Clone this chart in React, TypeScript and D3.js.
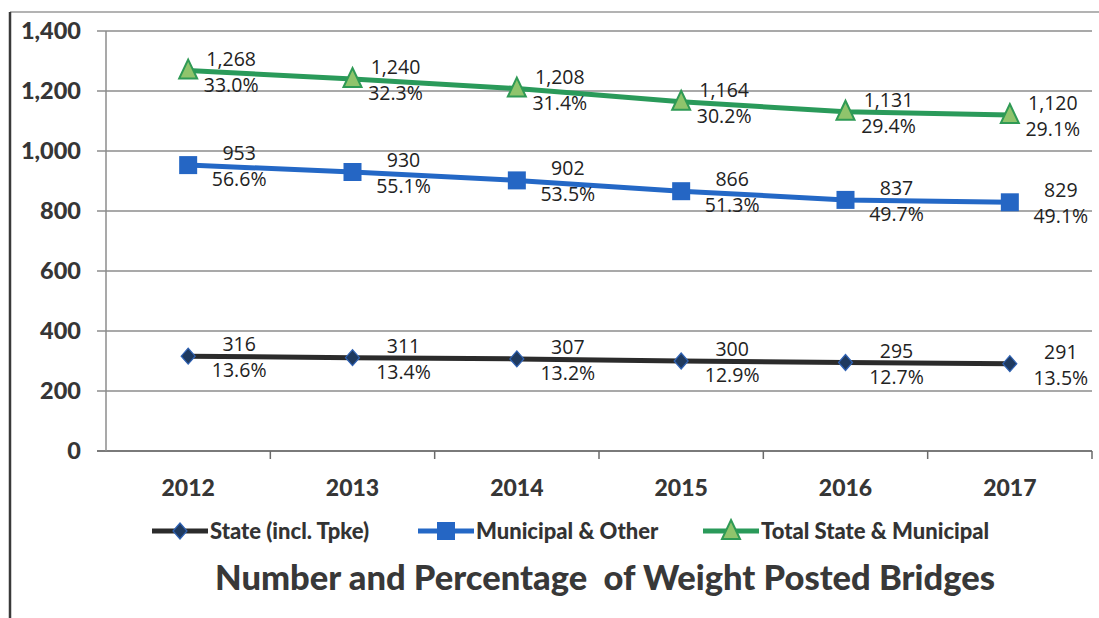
import React, { useEffect, useRef } from 'react';
import * as d3 from 'd3';

// data
const years = ['2012', '2013', '2014', '2015', '2016', '2017'];
const stateCounts = [316, 311, 307, 300, 295, 291];
const statePct = ['13.6%', '13.4%', '13.2%', '12.9%', '12.7%', '13.5%'];
const municipalCounts = [953, 930, 902, 866, 837, 829];
const municipalPct = ['56.6%', '55.1%', '53.5%', '51.3%', '49.7%', '49.1%'];
const totalCounts = [1268, 1240, 1208, 1164, 1131, 1120];
const totalPct = ['33.0%', '32.3%', '31.4%', '30.2%', '29.4%', '29.1%'];
const yTicks = [0, 200, 400, 600, 800, 1000, 1200, 1400];

const W = 1099;
const H = 618;
const margin = { top: 31, right: 7, bottom: 167, left: 106 };

const series = [
  { name: 'State (incl. Tpke)', values: stateCounts, pct: statePct, line: '#2b2b2b', marker: 'diamond', dx: 51 },
  { name: 'Municipal & Other', values: municipalCounts, pct: municipalPct, line: '#2468c6', marker: 'square', dx: 51 },
  { name: 'Total State & Municipal', values: totalCounts, pct: totalPct, line: '#2a9a5a', marker: 'triangle', dx: 43 },
];

const labelFont = '"Open Sans", "Liberation Sans", sans-serif';
const boldFont = 'Lato, "Open Sans", sans-serif';

function drawMarker(g: any, kind: string, x: number, y: number) {
  if (kind === 'diamond') {
    g.append('path')
      .attr('d', `M${x},${y - 8}L${x + 7},${y}L${x},${y + 8}L${x - 7},${y}Z`)
      .attr('fill', '#1f3a5f')
      .attr('stroke', '#2f62b4')
      .attr('stroke-width', 1.2);
  } else if (kind === 'square') {
    g.append('rect')
      .attr('x', x - 9).attr('y', y - 9)
      .attr('width', 18).attr('height', 18)
      .attr('fill', '#2566c4');
  } else {
    g.append('path')
      .attr('d', `M${x},${y - 11}L${x + 9},${y + 8}L${x - 9},${y + 8}Z`)
      .attr('fill', '#8fc46c')
      .attr('stroke', '#2f9a55')
      .attr('stroke-width', 2);
  }
}

export default function App() {
  const node = useRef<SVGSVGElement>(null);

  useEffect(() => {
    const svg = d3.select(node.current);
    svg.selectAll('*').remove();

    const x0 = margin.left;
    const x1 = W - margin.right;

    const xScale = d3.scaleBand().domain(years).range([x0, x1]).padding(0);
    const yScale = d3.scaleLinear().domain([0, 1400]).range([451, margin.top]);
    const cx = (d: string) => (xScale(d) as number) + xScale.bandwidth() / 2;

    // outer frame
    svg.append('line')
      .attr('x1', 10).attr('x2', W).attr('y1', 12).attr('y2', 12)
      .attr('stroke', '#9a9a9a').attr('stroke-width', 1.5);
    svg.append('line')
      .attr('x1', 10).attr('x2', 10).attr('y1', 12).attr('y2', H)
      .attr('stroke', '#3a3a3a').attr('stroke-width', 2.5);

    // grid + y axis
    const yAxis = svg.append('g');
    yTicks.forEach(t => {
      yAxis.append('line')
        .attr('x1', x0 - 9).attr('x2', x1)
        .attr('y1', yScale(t)).attr('y2', yScale(t))
        .attr('stroke', t === 0 ? '#7a7a7a' : '#8c8c8c')
        .attr('stroke-width', t === 0 ? 2 : 1.5);
      yAxis.append('text')
        .attr('x', 81).attr('y', yScale(t) + 8)
        .attr('text-anchor', 'end')
        .attr('font-family', boldFont).attr('font-weight', 900)
        .attr('font-size', 23.5).attr('fill', '#363636')
        .text(d3.format(',')(t));
    });
    yAxis.append('line')
      .attr('x1', x0).attr('x2', x0).attr('y1', margin.top).attr('y2', 451)
      .attr('stroke', '#8c8c8c').attr('stroke-width', 1.5);

    // x axis ticks + labels
    const xAxis = svg.append('g');
    years.forEach(yr => {
      const bx = (xScale(yr) as number) + xScale.bandwidth();
      xAxis.append('line')
        .attr('x1', bx).attr('x2', bx).attr('y1', 451).attr('y2', 459)
        .attr('stroke', '#6a6a6a').attr('stroke-width', 1.5);
      xAxis.append('text')
        .attr('x', cx(yr)).attr('y', 496)
        .attr('text-anchor', 'middle')
        .attr('font-family', boldFont).attr('font-weight', 900)
        .attr('font-size', 23).attr('fill', '#363636')
        .text(yr);
    });

    // lines, markers, labels
    const lineGen = d3.line<number>()
      .x((_, i) => cx(years[i]))
      .y(d => yScale(d));

    series.forEach(s => {
      const g = svg.append('g');
      g.append('path')
        .attr('d', lineGen(s.values))
        .attr('fill', 'none')
        .attr('stroke', s.line)
        .attr('stroke-width', 5)
        .attr('stroke-linejoin', 'round');
      s.values.forEach((v, i) => drawMarker(g, s.marker, cx(years[i]), yScale(v)));
      s.values.forEach((v, i) => {
        const px = cx(years[i]) + s.dx;
        const py = yScale(v);
        g.append('text')
          .attr('x', px).attr('y', py - 5)
          .attr('text-anchor', 'middle')
          .attr('font-family', labelFont).attr('font-size', 19.5).attr('fill', '#222')
          .text(d3.format(',')(v));
        g.append('text')
          .attr('x', px).attr('y', py + 21)
          .attr('text-anchor', 'middle')
          .attr('font-family', labelFont).attr('font-size', 19.5).attr('fill', '#222')
          .text(s.pct[i]);
      });
    });

    // legend
    const legendX = [152, 418, 703];
    const legend = svg.append('g');
    series.forEach((s, i) => {
      const lx = legendX[i];
      const ly = 531;
      legend.append('line')
        .attr('x1', lx).attr('x2', lx + 56).attr('y1', ly).attr('y2', ly)
        .attr('stroke', s.line).attr('stroke-width', 5);
      drawMarker(legend, s.marker, lx + 28, ly);
      legend.append('text')
        .attr('x', lx + 58).attr('y', ly + 8)
        .attr('font-family', boldFont).attr('font-weight', 900)
        .attr('font-size', 22).attr('fill', '#333')
        .text(s.name);
    });

    // title
    svg.append('text')
      .attr('x', 605).attr('y', 590)
      .attr('text-anchor', 'middle')
      .attr('font-family', boldFont).attr('font-weight', 900)
      .attr('font-size', 34.5).attr('fill', '#383838')
      .attr('xml:space', 'preserve')
      .text('Number and Percentage  of Weight Posted Bridges');
  }, []);

  return (
    <svg
      ref={node}
      width={W}
      height={H}
      style={{ position: 'absolute', left: 0, top: 0, background: '#fff' }}
    />
  );
}
